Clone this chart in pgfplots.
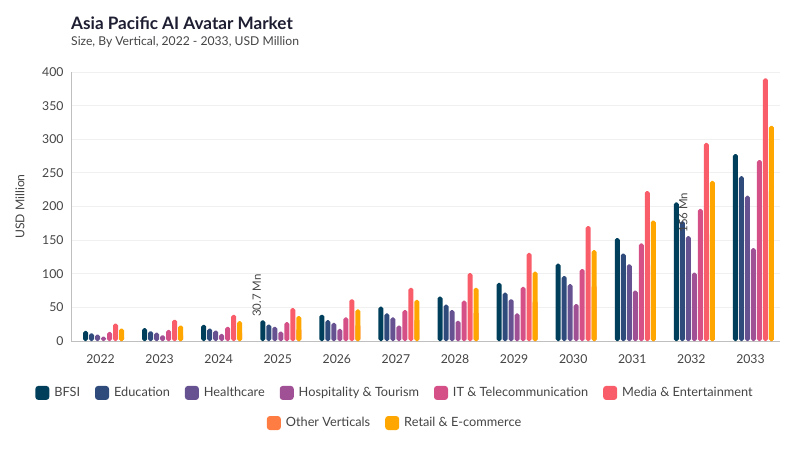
\documentclass[border=0pt]{standalone}
\usepackage{fontspec}
\setmainfont{Lato}
\usepackage{pgfplots}
\usepackage{pgfplotstable}
\pgfplotsset{compat=1.18}

\definecolor{cBFSI}{HTML}{003F5C}
\definecolor{cEdu}{HTML}{2F4B7C}
\definecolor{cHealth}{HTML}{665191}
\definecolor{cHosp}{HTML}{A05195}
\definecolor{cIT}{HTML}{D45087}
\definecolor{cMedia}{HTML}{F95D6A}
\definecolor{cOther}{HTML}{FF7C43}
\definecolor{cRetail}{HTML}{FFA600}
\definecolor{titlec}{HTML}{1E1E32}
\definecolor{textc}{HTML}{444444}

% USD Million, 2022..2033 at x = 0..11
\pgfplotstableread{
x  bfsi  edu   health hosp  it    media other retail
0  15    11.5  9.5    6.5   13.5  26    8     18.5
1  19    14.5  12.5   8.5   16.5  31.5  11    23
2  24    18.5  15.5   10.5  21    39    14    29.5
3  30.7  24.5  21     14    28    49    19    37
4  39    31    27     18    35    62    25    47
5  51    41    35     23    46    79    33    61
6  66    54    46     30    60    101   44    79
7  86.5  72    62     41    80.5  131   60    103
8  115   96.5  84.5   55    107   171   83    135
9  153   130   114    75    145   223   115   179
10 206   178   156    101.5 196.5 294.5 161   238
11 278   245   216    138   269   390.5 225   320
}\datatable

\pgfplotsset{
  base/.style={
    at={(71bp,-341bp)}, anchor=south west,
    width=709bp, height=269bp, scale only axis,
    xmin=-0.5, xmax=11.5, ymin=0, ymax=400,
  },
  legimg/.style={
    legend image code/.code={\fill[##1, draw=none, rounded corners=3bp] (0bp,-7bp) rectangle (14bp,7bp);},
  },
  legsty/.style={
    draw=none, fill=none, inner sep=0pt, anchor=center,
    font=\fontsize{12.8}{15}\selectfont, text=textc,
    /tikz/every odd column/.append style={column sep=3bp},
    /tikz/every even column/.append style={column sep=13bp},
  },
}

\begin{document}
\begin{tikzpicture}
\path[use as bounding box] (0bp,0bp) rectangle (800bp,-450bp);
\node[anchor=west, inner sep=0, font=\fontsize{17.2}{20}\selectfont\bfseries, text=titlec] at (71bp,-23bp) {Asia Pacific AI Avatar Market};
\node[anchor=west, inner sep=0, font=\fontsize{12.2}{14}\selectfont, text=textc] at (71bp,-42bp) {Size, By Vertical, 2022 - 2033, USD Million};
\node[rotate=90, inner sep=0, font=\fontsize{12.2}{14}\selectfont, text=textc] at (20bp,-206.5bp) {USD Million};

\begin{axis}[
  base,
  ybar=1bp, bar width=5bp,
  xtick={0,...,11},
  xticklabels={2022,2023,2024,2025,2026,2027,2028,2029,2030,2031,2032,2033},
  ytick={0,50,...,400},
  ymajorgrids, grid style={draw=black!6, line width=0.8bp},
  axis x line*=bottom, axis y line*=left,
  axis line style={draw=black!25, line width=0.8bp},
  major tick length=0,
  tick label style={font=\fontsize{12.3}{14}\selectfont, text=textc},
  /pgf/number format/assume math mode=true,
  yticklabel style={xshift=-4bp},
  xticklabel style={yshift=-10bp},
  legimg,
  legend columns=6,
  legend style={legsty, at={(axis description cs:0.457,-0.193)}},
  legend cell align=left,
]
\addplot[fill=cBFSI, draw=none, rounded corners=1.8bp] table[x=x,y=bfsi]{\datatable};
\addlegendentry{BFSI}
\addplot[fill=cEdu, draw=none, rounded corners=1.8bp] table[x=x,y=edu]{\datatable};
\addlegendentry{Education}
\addplot[fill=cHealth, draw=none, rounded corners=1.8bp] table[x=x,y=health]{\datatable};
\addlegendentry{Healthcare}
\addplot[fill=cHosp, draw=none, rounded corners=1.8bp] table[x=x,y=hosp]{\datatable};
\addlegendentry{Hospitality \& Tourism}
\addplot[fill=cIT, draw=none, rounded corners=1.8bp] table[x=x,y=it]{\datatable};
\addlegendentry{IT \& Telecommunication}
\addplot[fill=cMedia, draw=none, rounded corners=1.8bp] table[x=x,y=media]{\datatable};
\addlegendentry{Media \& Entertainment}
\addplot[fill=cOther, draw=none, rounded corners=1.8bp, forget plot] table[x=x,y=other]{\datatable};
\addplot[fill=cRetail, draw=none, rounded corners=1.8bp, forget plot] table[x=x,y=retail]{\datatable};

\node[rotate=90, anchor=west, font=\fontsize{11.5}{13}\selectfont, text=textc] at ([xshift=-21bp]axis cs:3,30.7) {30.7 Mn};
\node[rotate=90, anchor=west, font=\fontsize{11.5}{13}\selectfont, text=textc] at ([xshift=-8bp]axis cs:10,156) {156 Mn};
\end{axis}

\begin{axis}[
  base, hide axis,
  legimg,
  legend columns=2,
  legend style={legsty, at={(axis description cs:0.457,-0.305)}},
  legend cell align=left,
]
\addlegendimage{fill=cOther}
\addlegendentry{Other Verticals}
\addlegendimage{fill=cRetail}
\addlegendentry{Retail \& E-commerce}
\end{axis}
\end{tikzpicture}
\end{document}
